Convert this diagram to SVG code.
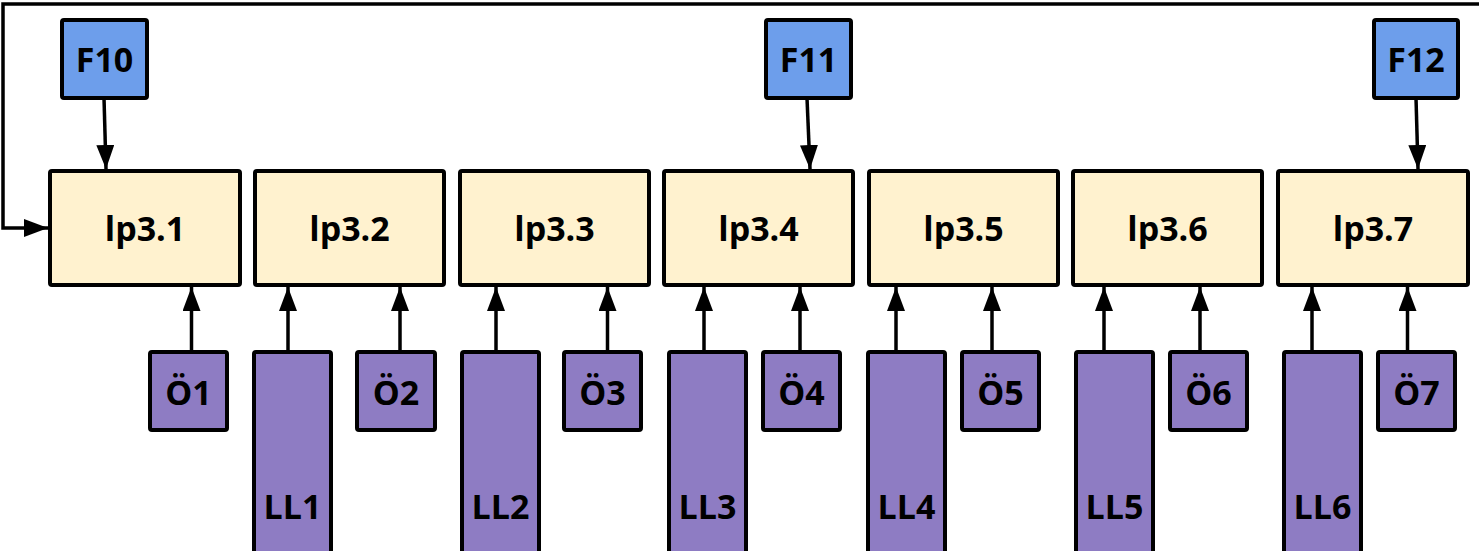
<svg xmlns="http://www.w3.org/2000/svg" width="1479" height="551" viewBox="0 0 1479 551">
  <style>
    .lp { fill: #fff2cf; stroke: #000; stroke-width: 4; }
    .f { fill: #6d9eeb; stroke: #000; stroke-width: 4; }
    .p { fill: #8e7cc3; stroke: #000; stroke-width: 4; }
    .t { font-family: "Open Sans", "Noto Sans", sans-serif; font-weight: 700; font-size: 34px; fill: #000; text-anchor: middle; }
    .c { fill: none; stroke: #000; stroke-width: 3.5; marker-end: url(#ah); }
  </style>
  <defs>
    <marker id="ah" viewBox="0 0 24 18" refX="24" refY="9" markerWidth="24" markerHeight="18" markerUnits="userSpaceOnUse" orient="auto">
      <path d="M0,0 L24,9 L0,18 z" fill="#000"/>
    </marker>
  </defs>
  <rect width="1479" height="551" fill="#fff"/>

  <g id="connectors">
    <path class="c" d="M1479,4 H3 V228 H48"/>
    <path class="c" d="M104,98 L106,169"/>
    <path class="c" d="M807,98 L810,169"/>
    <path class="c" d="M1416,98 L1418,169"/>
    <path class="c" d="M191.5,352 V287"/>
    <path class="c" d="M288,352 V287"/>
    <path class="c" d="M400,352 V287"/>
    <path class="c" d="M496,352 V287"/>
    <path class="c" d="M607.5,352 V287"/>
    <path class="c" d="M704,352 V287"/>
    <path class="c" d="M800,352 V287"/>
    <path class="c" d="M896,352 V287"/>
    <path class="c" d="M992,352 V287"/>
    <path class="c" d="M1104,352 V287"/>
    <path class="c" d="M1200,352 V287"/>
    <path class="c" d="M1312,352 V287"/>
    <path class="c" d="M1407.5,352 V287"/>
  </g>

  <g id="lp3.1"><rect class="lp" x="50" y="171" width="190" height="114" rx="2"/><text class="t" x="145" y="241">lp3.1</text></g>
  <g id="lp3.2"><rect class="lp" x="255" y="171" width="189" height="114" rx="2"/><text class="t" x="349.5" y="241">lp3.2</text></g>
  <g id="lp3.3"><rect class="lp" x="460" y="171" width="189" height="114" rx="2"/><text class="t" x="554.5" y="241">lp3.3</text></g>
  <g id="lp3.4"><rect class="lp" x="664" y="171" width="189" height="114" rx="2"/><text class="t" x="758.5" y="241">lp3.4</text></g>
  <g id="lp3.5"><rect class="lp" x="869" y="171" width="189" height="114" rx="2"/><text class="t" x="963.5" y="241">lp3.5</text></g>
  <g id="lp3.6"><rect class="lp" x="1073" y="171" width="189" height="114" rx="2"/><text class="t" x="1167.5" y="241">lp3.6</text></g>
  <g id="lp3.7"><rect class="lp" x="1278" y="171" width="190" height="114" rx="2"/><text class="t" x="1373" y="241">lp3.7</text></g>

  <g id="F10"><rect class="f" x="62" y="20" width="85" height="78" rx="2"/><text class="t" x="104.5" y="72">F10</text></g>
  <g id="F11"><rect class="f" x="766" y="20" width="85" height="78" rx="2"/><text class="t" x="808.5" y="72">F11</text></g>
  <g id="F12"><rect class="f" x="1374" y="20" width="84" height="78" rx="2"/><text class="t" x="1416" y="72">F12</text></g>

  <g id="O1"><rect class="p" x="150" y="352" width="77" height="78" rx="2"/><text class="t" x="188.5" y="405">Ö1</text></g>
  <g id="O2"><rect class="p" x="357" y="352" width="78" height="78" rx="2"/><text class="t" x="396" y="405">Ö2</text></g>
  <g id="O3"><rect class="p" x="564" y="352" width="77" height="78" rx="2"/><text class="t" x="602.5" y="405">Ö3</text></g>
  <g id="O4"><rect class="p" x="763" y="352" width="77" height="78" rx="2"/><text class="t" x="801.5" y="405">Ö4</text></g>
  <g id="O5"><rect class="p" x="962" y="352" width="77" height="78" rx="2"/><text class="t" x="1000.5" y="405">Ö5</text></g>
  <g id="O6"><rect class="p" x="1170" y="352" width="77" height="78" rx="2"/><text class="t" x="1208.5" y="405">Ö6</text></g>
  <g id="O7"><rect class="p" x="1378" y="352" width="77" height="78" rx="2"/><text class="t" x="1416.5" y="405">Ö7</text></g>

  <g id="LL1"><rect class="p" x="254" y="352" width="77" height="210" rx="2"/><text class="t" x="292.5" y="519">LL1</text></g>
  <g id="LL2"><rect class="p" x="462" y="352" width="77" height="210" rx="2"/><text class="t" x="500.5" y="519">LL2</text></g>
  <g id="LL3"><rect class="p" x="669" y="352" width="77" height="210" rx="2"/><text class="t" x="707.5" y="519">LL3</text></g>
  <g id="LL4"><rect class="p" x="868" y="352" width="77" height="210" rx="2"/><text class="t" x="906.5" y="519">LL4</text></g>
  <g id="LL5"><rect class="p" x="1076" y="352" width="77" height="210" rx="2"/><text class="t" x="1114.5" y="519">LL5</text></g>
  <g id="LL6"><rect class="p" x="1284" y="352" width="77" height="210" rx="2"/><text class="t" x="1322.5" y="519">LL6</text></g>
</svg>
